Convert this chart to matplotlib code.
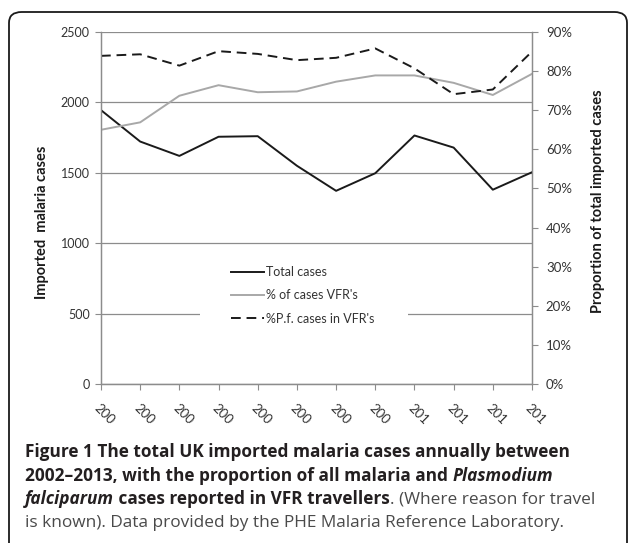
import matplotlib
matplotlib.use('Agg')
import matplotlib.pyplot as plt
from matplotlib.patches import FancyBboxPatch, Rectangle
from matplotlib.ticker import FuncFormatter

# values
years = ['200', '200', '200', '200', '200', '200', '200', '200', '201', '201', '201', '201']
total_cases = [1945, 1722, 1620, 1756, 1760, 1550, 1372, 1497, 1765, 1679, 1380, 1504]
pct_vfr = [65.0, 66.9, 73.7, 76.4, 74.6, 74.8, 77.3, 78.9, 78.9, 77.0, 73.9, 79.3]
pct_pf_vfr = [83.9, 84.3, 81.4, 85.1, 84.4, 82.8, 83.4, 85.8, 80.7, 74.1, 75.3, 85.0]

W, H = 629, 543
chart_font = 'Lato'
cap_font = 'Open Sans'
grey = '#8c8c8c'

fig = plt.figure(figsize=(W / 100, H / 100), dpi=100)
fig.patch.set_facecolor('white')

# rounded frame around the whole figure
frame = FancyBboxPatch((9 / W, -20 / H), 618 / W, (H - 12 + 20) / H,
                       boxstyle='round,pad=0,rounding_size=0.02',
                       transform=fig.transFigure, fill=False,
                       edgecolor='#1a1a1a', linewidth=1.3, clip_on=False)
fig.patches.append(frame)

ax = fig.add_axes([101 / W, 1 - 384 / H, 431 / W, 352 / H])
ax2 = ax.twinx()

x = list(range(len(years)))
ax.plot(x, total_cases, color='#1a1a1a', lw=1.4, label='Total cases', zorder=3)
ax2.plot(x, pct_vfr, color='#a8a8a8', lw=1.4, label="% of cases VFR's")
ax2.plot(x, pct_pf_vfr, color='#1a1a1a', lw=1.4, dashes=(5, 3),
         label="%P.f. cases in VFR's")

ax.set_xlim(0, len(years) - 1)
ax.set_ylim(0, 2500)
ax2.set_ylim(0, 90)
ax.set_yticks(range(0, 2501, 500))
ax2.set_yticks(range(0, 91, 10))
ax2.yaxis.set_major_formatter(FuncFormatter(lambda v, p: '%d%%' % v))
ax.grid(axis='y', color=grey, lw=0.9)
ax.set_axisbelow(True)

ax.set_xticks(x)
ax.set_xticklabels(years, rotation=-45, ha='left', va='top', rotation_mode='anchor',
                   fontsize=9.5, family=chart_font, color='#333333')

for a in (ax, ax2):
    for s in a.spines.values():
        s.set_color(grey)
        s.set_linewidth(0.9)
    a.spines['top'].set_visible(False)
    a.tick_params(colors=grey, length=4, width=0.8, labelcolor='#333333')
ax.tick_params(axis='x', pad=9)
ax.tick_params(axis='y', labelsize=9, pad=4)
ax2.tick_params(axis='y', labelsize=9.5, pad=6)
for lab in ax.get_yticklabels() + ax2.get_yticklabels():
    lab.set_family(chart_font)

# axis titles placed like the reference
fig.text(42 / W, 1 - 222 / H, 'Imported  malaria cases', rotation=90, ha='center', va='center',
         fontsize=10.5, fontweight='bold', family=chart_font, color='#1a1a1a')
fig.text(598 / W, 1 - 201 / H, 'Proportion of total imported cases', rotation=90,
         ha='center', va='center', fontsize=10.5, fontweight='bold',
         family=chart_font, color='#1a1a1a')

# white legend area that breaks the 500 gridline
ax2.add_patch(Rectangle((0.23, 0.15), 0.482, 0.21, transform=ax2.transAxes,
                        facecolor='white', edgecolor='none', zorder=1))

h1, l1 = ax.get_legend_handles_labels()
h2, l2 = ax2.get_legend_handles_labels()
leg = ax2.legend(h1 + h2, l1 + l2, loc='center', bbox_to_anchor=(0.468, 0.252),
                 prop={'family': chart_font, 'size': 9}, frameon=False,
                 handlelength=2.6, handletextpad=0.2,
                 labelspacing=0.9, borderaxespad=0)
for t in leg.get_texts():
    t.set_color('#333333')

# caption with mixed bold / italic / regular runs
caption = [
    [('Figure 1 The total UK imported malaria cases annually between', 'bold', 'normal')],
    [('2002\u20132013, with the proportion of all malaria and ', 'bold', 'normal'),
     ('Plasmodium', 'bold', 'italic')],
    [('falciparum', 'bold', 'italic'), (' cases reported in VFR travellers', 'bold', 'normal'),
     ('. (Where reason for travel', 'normal', 'normal')],
    [('is known). Data provided by the PHE Malaria Reference Laboratory.', 'normal', 'normal')],
]
renderer = fig.canvas.get_renderer()
y_px = 452
for line in caption:
    x_px = 25
    for txt, wt, st in line:
        col = '#231f20' if wt == 'bold' else '#4a4a4a'
        t = fig.text(x_px / W, 1 - y_px / H, txt, fontsize=12.4, fontweight=wt, fontstyle=st,
                     family=cap_font, color=col, ha='left', va='center')
        x_px += t.get_window_extent(renderer).width
    y_px += 23.7

fig.savefig('out.png', dpi=100)
